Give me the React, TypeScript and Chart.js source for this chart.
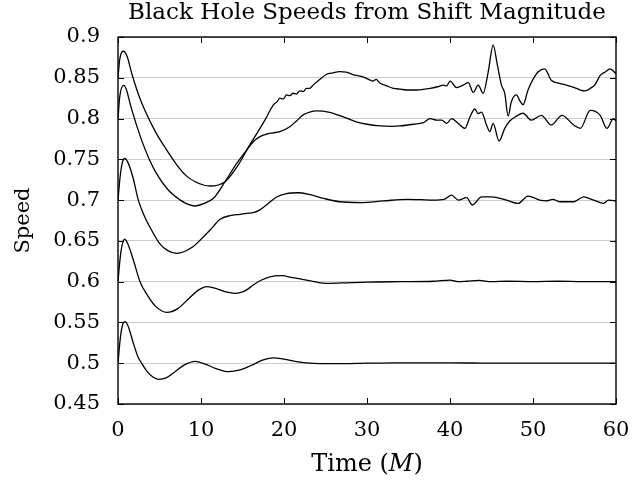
import { useEffect, useRef } from "react";
import { Chart, registerables } from "chart.js";

Chart.register(...registerables);

const TITLE = "Black Hole Speeds from Shift Magnitude";
const Y_TITLE = "Speed";
const X_TITLE_PARTS = ["Time (", "M", ")"];

const xTickLabels = ["0", "10", "20", "30", "40", "50", "60"];
const yTickLabels = ["0.45", "0.5", "0.55", "0.6", "0.65", "0.7", "0.75", "0.8", "0.85", "0.9"];

// [time (M), speed] pairs
const seriesA: [number, number][] = [
  [0, 0.85], [0.2, 0.872], [0.68, 0.8825], [1.1, 0.876], [1.69, 0.854], [2.49, 0.829], [3.29, 0.809],
  [4.5, 0.784], [5.7, 0.764], [7.1, 0.743], [8.2, 0.73], [9.3, 0.7225], [11.08, 0.7173], [12.9, 0.7226],
  [14.3, 0.74], [15.9, 0.768], [17.7, 0.798], [18.7, 0.8166], [19.2, 0.821], [19.5, 0.825], [19.9, 0.824],
  [20.3, 0.829], [20.7, 0.828], [21.1, 0.831], [21.5, 0.83], [21.9, 0.834], [22.3, 0.833], [22.7, 0.837],
  [23.1, 0.837], [23.5, 0.841], [24.3, 0.848], [25.1, 0.854], [25.9, 0.856], [26.7, 0.8575], [27.5, 0.857],
  [28.3, 0.854], [29.2, 0.852], [30, 0.849], [30.7, 0.846], [31.1, 0.848], [31.5, 0.844], [32.4, 0.84],
  [33.2, 0.837], [34, 0.836], [35, 0.835], [36, 0.835], [37.6, 0.837], [38.5, 0.839], [39.2, 0.841],
  [39.6, 0.84], [40, 0.846], [40.8, 0.838], [41.6, 0.841], [42.2, 0.844], [42.8, 0.832], [43.4, 0.841],
  [44, 0.831], [44.6, 0.857], [45.2, 0.89], [45.7, 0.866], [46.2, 0.841], [46.6, 0.831], [47.0, 0.803],
  [47.4, 0.821], [48, 0.829], [48.4, 0.822], [48.8, 0.817], [49.4, 0.835], [50, 0.848], [50.6, 0.857],
  [51.4, 0.861], [52.2, 0.847], [53.2, 0.843], [54, 0.841], [55, 0.838], [55.7, 0.835], [56.3, 0.834],
  [56.9, 0.837], [57.5, 0.842], [58.1, 0.853], [58.7, 0.857], [59.3, 0.861], [60, 0.855],
];

const seriesB: [number, number][] = [
  [0, 0.8], [0.2, 0.826], [0.68, 0.8407], [1.0, 0.836], [1.49, 0.817], [2.09, 0.7966], [2.9, 0.772],
  [3.7, 0.7516], [4.5, 0.735], [6, 0.713], [7.47, 0.7003], [8.4, 0.695], [9.28, 0.6928], [10.4, 0.696],
  [11.5, 0.7022], [12.9, 0.7226], [14.3, 0.745], [15.5, 0.7614], [16.3, 0.7716], [17.1, 0.7778],
  [17.9, 0.781], [18.7, 0.7825], [19.5, 0.784], [20.7, 0.79], [21.5, 0.797], [22.3, 0.8045], [23.1, 0.808],
  [23.9, 0.8095], [25.5, 0.8077], [27.1, 0.8023], [28.7, 0.796], [30, 0.793], [31.6, 0.791], [33, 0.7905],
  [34, 0.791], [35.6, 0.793], [36.8, 0.795], [37.6, 0.8], [38.4, 0.798], [39, 0.798], [39.6, 0.794],
  [40.2, 0.8], [41, 0.794], [41.8, 0.788], [42.4, 0.802], [43, 0.8117], [43.4, 0.806], [43.8, 0.808],
  [44.4, 0.792], [44.8, 0.784], [45.2, 0.794], [45.9, 0.7725], [46.6, 0.788], [47.2, 0.797], [48, 0.803],
  [48.8, 0.8065], [49.8, 0.798], [51, 0.804], [52.2, 0.792], [53.5, 0.804], [54.9, 0.792], [55.7, 0.788],
  [56.9, 0.81], [58.1, 0.804], [58.9, 0.788], [59.7, 0.8], [60, 0.797],
];

const seriesC: [number, number][] = [
  [0, 0.7], [0.25, 0.728], [0.5, 0.745], [0.8, 0.751], [1.2, 0.746], [1.8, 0.728], [2.45, 0.7],
  [3.2, 0.68], [4, 0.664], [5, 0.647], [6, 0.638], [7.07, 0.6348], [8, 0.637], [9.07, 0.643], [10, 0.652],
  [11.1, 0.6633], [12.3, 0.6765], [13.5, 0.681], [14.7, 0.6826], [15.5, 0.6838], [16.3, 0.6846],
  [17.1, 0.688], [18, 0.695], [19.1, 0.7038], [20.3, 0.708], [21.7, 0.709], [23, 0.707], [24.8, 0.702],
  [26.7, 0.698], [29.2, 0.697], [32, 0.699], [34.8, 0.701], [36.5, 0.7005], [38, 0.7], [39.3, 0.701],
  [40.2, 0.706], [41, 0.7], [42, 0.703], [42.7, 0.694], [43.8, 0.704], [45, 0.704], [46.8, 0.7],
  [48.2, 0.696], [49.4, 0.705], [50.8, 0.7], [51.6, 0.699], [52.4, 0.701], [53.2, 0.698], [54.9, 0.698],
  [56.1, 0.704], [57.3, 0.7], [58.5, 0.696], [59.1, 0.7], [60, 0.699],
];

const seriesD: [number, number][] = [
  [0, 0.6], [0.25, 0.628], [0.5, 0.645], [0.8, 0.652], [1.2, 0.646], [1.85, 0.6266], [2.65, 0.6],
  [3.5, 0.584], [4.5, 0.57], [5.9, 0.5624], [7.2, 0.567], [8.5, 0.579], [9.6, 0.589], [10.7, 0.5938],
  [12, 0.591], [13, 0.5875], [14.1, 0.5857], [14.7, 0.5865], [15.5, 0.59], [16.3, 0.596], [17.3, 0.602],
  [18.3, 0.606], [19.7, 0.6073], [21, 0.605], [22.7, 0.602], [25, 0.598], [27, 0.5985], [30, 0.5995],
  [34, 0.6], [38, 0.6005], [40, 0.602], [41, 0.6], [42, 0.6005], [43.5, 0.6015], [45, 0.6], [47, 0.6005],
  [50, 0.6], [53, 0.6005], [56, 0.6], [60, 0.6],
];

const seriesE: [number, number][] = [
  [0, 0.5], [0.25, 0.528], [0.5, 0.545], [0.84, 0.551], [1.2, 0.546], [1.85, 0.5245], [2.4, 0.508],
  [2.85, 0.5], [3.5, 0.49], [4.2, 0.483], [4.9, 0.4803], [5.8, 0.482], [6.8, 0.489], [8, 0.498],
  [9.3, 0.5023], [10.5, 0.499], [11.8, 0.4935], [13.3, 0.4896], [14.7, 0.4917], [16.2, 0.498],
  [17.5, 0.504], [18.7, 0.5065], [20, 0.505], [21.5, 0.502], [23.1, 0.5], [25, 0.4995], [27, 0.4995],
  [30, 0.5], [33, 0.5005], [36, 0.5005], [40, 0.5005], [45, 0.5], [50, 0.5], [55, 0.5], [60, 0.5],
];

const allSeries = [seriesA, seriesB, seriesC, seriesD, seriesE];

const FONT = "'DejaVu Serif', 'Liberation Serif', serif";

const framePlugin = {
  id: "frameAndTitles",
  afterDatasetsDraw(chart: any) {
    const { ctx, chartArea, scales } = chart;
    const { left, right, top, bottom } = chartArea;
    const xs = scales.x;
    const ys = scales.y;
    ctx.save();
    ctx.strokeStyle = "#000";
    ctx.lineWidth = 1;
    const tick = 6;
    ctx.beginPath();
    xs.ticks.forEach((t: any) => {
      const px = Math.round(xs.getPixelForValue(t.value)) + 0.5;
      ctx.moveTo(px, top);
      ctx.lineTo(px, top + tick);
      ctx.moveTo(px, bottom);
      ctx.lineTo(px, bottom - tick);
    });
    ys.ticks.forEach((t: any) => {
      const py = Math.round(ys.getPixelForValue(t.value)) + 0.5;
      ctx.moveTo(left, py);
      ctx.lineTo(left + tick, py);
      ctx.moveTo(right, py);
      ctx.lineTo(right - tick, py);
    });
    ctx.stroke();
    ctx.lineWidth = 1.4;
    ctx.strokeRect(left, top, right - left, bottom - top);

    ctx.fillStyle = "#000";
    ctx.textAlign = "center";
    ctx.textBaseline = "middle";
    ctx.font = `23px ${FONT}`;
    ctx.fillText(TITLE, (left + right) / 2, 13);

    ctx.font = `21px ${FONT}`;
    ctx.save();
    ctx.translate(24, (top + bottom) / 2);
    ctx.rotate(-Math.PI / 2);
    ctx.fillText(Y_TITLE, 0, 0);
    ctx.restore();

    const fonts = [`24px ${FONT}`, `italic 24px ${FONT}`, `24px ${FONT}`];
    const widths = X_TITLE_PARTS.map((p, i) => {
      ctx.font = fonts[i];
      return ctx.measureText(p).width;
    });
    const total = widths.reduce((a, b) => a + b, 0);
    let x0 = (left + right) / 2 - total / 2;
    ctx.textAlign = "left";
    X_TITLE_PARTS.forEach((p, i) => {
      ctx.font = fonts[i];
      ctx.fillText(p, x0, 465);
      x0 += widths[i];
    });
    ctx.restore();
  },
};

function labelFor(labels: string[], v: number) {
  const found = labels.find((l) => Math.abs(parseFloat(l) - v) < 1e-6);
  return found ?? "";
}

export default function App() {
  const ref = useRef<HTMLCanvasElement | null>(null);
  useEffect(() => {
    if (!ref.current) return;
    const chart = new Chart(ref.current, {
      type: "line",
      data: {
        datasets: allSeries.map((s) => ({
          data: s.map(([x, y]) => ({ x, y })),
          borderColor: "#000",
          borderWidth: 1.3,
          pointRadius: 0,
          fill: false,
          cubicInterpolationMode: "monotone" as const,
        })),
      },
      options: {
        responsive: false,
        animation: false,
        devicePixelRatio: 1,
        layout: { padding: { top: 37, right: 18, bottom: 0, left: 0 } },
        plugins: { legend: { display: false }, tooltip: { enabled: false }, title: { display: false } },
        scales: {
          x: {
            type: "linear",
            min: 0,
            max: 60,
            grid: { display: false, drawTicks: true, tickLength: 14 },
            border: { display: false },
            ticks: {
              stepSize: 10,
              color: "#000",
              padding: 0,
              maxRotation: 0,
              font: { family: FONT, size: 21 },
              callback: (v: any) => labelFor(xTickLabels, Number(v)),
            },
            afterFit: (s: any) => {
              s.height = 85;
            },
          },
          y: {
            type: "linear",
            min: 0.45,
            max: 0.9,
            grid: { color: "#cccccc", lineWidth: 1, drawTicks: false },
            border: { display: false },
            ticks: {
              stepSize: 0.05,
              color: "#000",
              padding: 18,
              font: { family: FONT, size: 21 },
              callback: (v: any) => labelFor(yTickLabels, Number(v)),
            },
            afterFit: (s: any) => {
              s.width = 118;
            },
          },
        },
      },
      plugins: [framePlugin],
    });
    return () => chart.destroy();
  }, []);
  return (
    <div style={{ position: "fixed", left: 0, top: 0, width: 634, height: 489, background: "#fff" }}>
      <canvas ref={ref} width={634} height={489} />
    </div>
  );
}
